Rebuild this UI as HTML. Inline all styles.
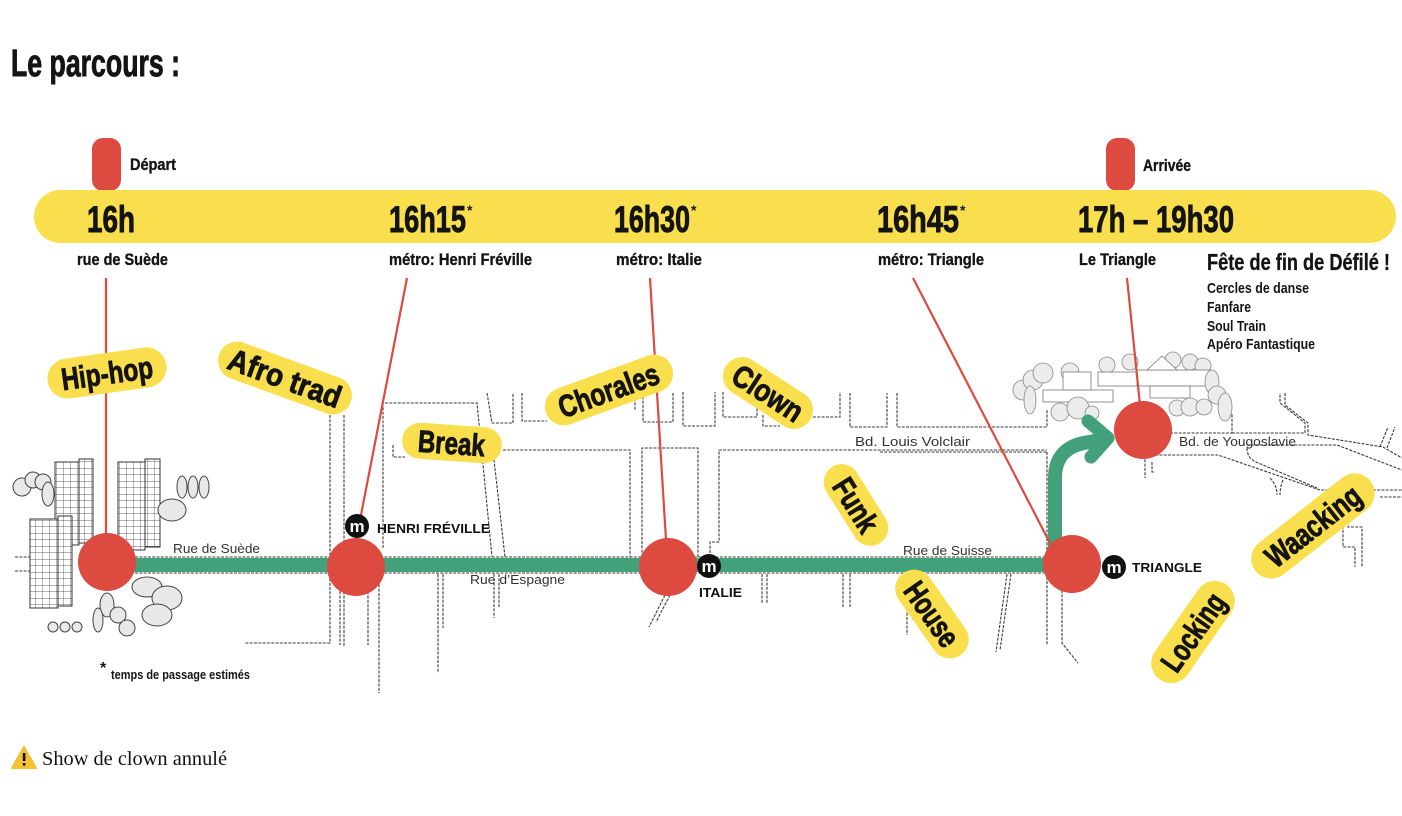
<!DOCTYPE html>
<html><head><meta charset="utf-8"><style>
html,body{margin:0;padding:0;background:#fff;}
svg{display:block;}
.c{font-family:"Liberation Sans",sans-serif;font-weight:bold;fill:#141414;}
.h{stroke:#141414;stroke-width:0.9;}
.h2{stroke:#141414;stroke-width:0.35;}
.m{font-family:"Liberation Sans",sans-serif;fill:#333;}
.st{fill:none;stroke:#3a3a3a;stroke-width:1.1;stroke-dasharray:3 1.3;}
.tr{fill:#e8e8e8;stroke:#444;stroke-width:1;}
.tc{fill:#ececec;stroke:#888;stroke-width:0.8;}
</style></head><body>
<svg width="1402" height="816" viewBox="0 0 1402 816" xmlns="http://www.w3.org/2000/svg">
<defs>
<pattern id="grid" width="7" height="6.5" patternUnits="userSpaceOnUse">
<rect width="7" height="6.5" fill="#fff"/>
<path d="M0,0H7M0,0V6.5" stroke="#333" stroke-width="0.7" fill="none"/>
</pattern>
</defs>

<!-- Title -->
<text class="c h" x="11" y="76" font-size="38" textLength="169" lengthAdjust="spacingAndGlyphs">Le parcours :</text>

<!-- markers -->
<rect x="92" y="138" width="29" height="53" rx="11" fill="#dc4a40"/>
<rect x="1106" y="138" width="29" height="53" rx="11" fill="#dc4a40"/>
<text class="c h2" x="130" y="170" font-size="17" textLength="46" lengthAdjust="spacingAndGlyphs">Départ</text>
<text class="c h2" x="1143" y="171" font-size="17" textLength="48" lengthAdjust="spacingAndGlyphs">Arrivée</text>

<!-- yellow bar -->
<rect x="34" y="190" width="1362" height="53" rx="26.5" fill="#f9df4d"/>
<text class="c h" x="87" y="232" font-size="37" textLength="48" lengthAdjust="spacingAndGlyphs">16h</text>
<text class="c h" x="389" y="232" font-size="37" textLength="77" lengthAdjust="spacingAndGlyphs">16h15</text>
<text class="c" x="467" y="215" font-size="14">*</text>
<text class="c h" x="614" y="232" font-size="37" textLength="76" lengthAdjust="spacingAndGlyphs">16h30</text>
<text class="c" x="691" y="215" font-size="14">*</text>
<text class="c h" x="877" y="232" font-size="37" textLength="82" lengthAdjust="spacingAndGlyphs">16h45</text>
<text class="c" x="960" y="215" font-size="14">*</text>
<text class="c h" x="1078" y="232" font-size="37" textLength="156" lengthAdjust="spacingAndGlyphs">17h – 19h30</text>

<!-- sub labels -->
<text class="c h2" x="77" y="265" font-size="17" textLength="91" lengthAdjust="spacingAndGlyphs">rue de Suède</text>
<text class="c h2" x="389" y="265" font-size="17" textLength="143" lengthAdjust="spacingAndGlyphs">métro: Henri Fréville</text>
<text class="c h2" x="616" y="265" font-size="17" textLength="86" lengthAdjust="spacingAndGlyphs">métro: Italie</text>
<text class="c h2" x="878" y="265" font-size="17" textLength="106" lengthAdjust="spacingAndGlyphs">métro: Triangle</text>
<text class="c h2" x="1079" y="265" font-size="17" textLength="77" lengthAdjust="spacingAndGlyphs">Le Triangle</text>
<text class="c h2" x="1207" y="270" font-size="23" textLength="183" lengthAdjust="spacingAndGlyphs">Fête de fin de Défilé !</text>
<text class="c" x="1207" y="293" font-size="15" textLength="102" lengthAdjust="spacingAndGlyphs">Cercles de danse</text>
<text class="c" x="1207" y="312" font-size="15" textLength="44" lengthAdjust="spacingAndGlyphs">Fanfare</text>
<text class="c" x="1207" y="331" font-size="15" textLength="59" lengthAdjust="spacingAndGlyphs">Soul Train</text>
<text class="c" x="1207" y="349" font-size="15" textLength="108" lengthAdjust="spacingAndGlyphs">Apéro Fantastique</text>

<!-- streets -->
<path class="st" d="
M15,557 H40 M15,571 H35
M135,557 H1047 M135,573 H1047
M330,415 V643 H245
M344,415 V646
M340,587 V645
M368,587 V645
M379,563 V693
M383,403 V548
M385,403 H477 L492,557
M493,451 L505,557
M393,445 V457 H405
M503,450 H630 V557
M642,557 V448 H698 V557
M710,553 V542 H719 V450 H1047
M1047,452 V645
M487,393 L492,423 H513 V393
M522,393 V421 H547
M635,398 V410
M643,392 V422 H673 V392
M683,392 V426 H715 V392
M723,392 V417 H757 V403
M763,415 V426 H780
M813,417 H840 V392
M850,393 V427 H887 V393
M897,393 V427 H1047 V410
M880,452 H1047
M1170,433 H1232 V413
M1232,433 H1305 V423 L1280,403 V393
M1285,393 V405 L1308,423 V435 L1383,447 L1402,458
M1380,447 L1388,427 M1387,448 L1395,427
M1247,445 H1337 L1402,470
M1155,455 H1218 L1320,490 H1402
M1380,497 H1402
M1247,448 Q1247,458 1256,462 L1317,488
M1270,478 Q1277,485 1277,495 M1283,480 Q1280,487 1280,495
M1343,517 V547 H1355 V567
M1348,517 V527 H1362 V567
M1145,455 V478 M1152,462 V472 H1155
M1062,590 V643 L1078,663
M1007,574 L996,652 M1011,574 L1000,650
M907,574 V635 M913,574 V620
M843,574 V607 M850,574 V607
M762,574 V604 M767,574 V604
M665,595 L649,627 M670,595 L656,622
M494,574 V618 M499,574 V607
M438,574 V673 M443,574 V628
"/>

<!-- Le Triangle cluster -->
<g>
<circle class="tc" cx="1023" cy="390" r="10"/>
<circle class="tc" cx="1033" cy="380" r="10"/>
<circle class="tc" cx="1043" cy="373" r="10"/>
<ellipse class="tc" cx="1030" cy="400" rx="6" ry="14"/>
<circle class="tc" cx="1070" cy="372" r="9"/>
<circle class="tc" cx="1107" cy="365" r="8"/>
<circle class="tc" cx="1130" cy="362" r="8"/>
<circle class="tc" cx="1173" cy="360" r="8"/>
<circle class="tc" cx="1190" cy="362" r="8"/>
<circle class="tc" cx="1203" cy="366" r="8"/>
<rect x="1043" y="390" width="70" height="12" fill="#fff" stroke="#777" stroke-width="0.8"/>
<rect x="1063" y="372" width="28" height="18" fill="#fff" stroke="#777" stroke-width="0.8"/>
<rect x="1098" y="372" width="40" height="14" fill="#fff" stroke="#777" stroke-width="0.8"/>
<rect x="1137" y="370" width="73" height="16" fill="#fff" stroke="#777" stroke-width="0.8"/>
<polygon points="1147,370 1162,356 1177,370" fill="#fff" stroke="#777" stroke-width="0.8"/>
<rect x="1150" y="386" width="40" height="12" fill="#fff" stroke="#777" stroke-width="0.8"/>
<circle class="tc" cx="1060" cy="412" r="9"/>
<circle class="tc" cx="1078" cy="408" r="11"/>
<circle class="tc" cx="1092" cy="413" r="7"/>
<ellipse class="tc" cx="1212" cy="382" rx="7" ry="12"/>
<circle class="tc" cx="1217" cy="395" r="9"/>
<circle class="tc" cx="1177" cy="408" r="8"/>
<circle class="tc" cx="1190" cy="407" r="9"/>
<circle class="tc" cx="1204" cy="407" r="8"/>
<ellipse class="tc" cx="1225" cy="407" rx="7" ry="14"/>
</g>

<!-- Left towers and trees -->
<circle class="tr" cx="22" cy="487" r="9"/>
<circle class="tr" cx="33" cy="480" r="8"/>
<circle class="tr" cx="43" cy="482" r="8"/>
<ellipse class="tr" cx="48" cy="494" rx="6" ry="12"/>
<g stroke="#333" stroke-width="1">
<rect x="55" y="462" width="24" height="83" fill="url(#grid)"/>
<rect x="79" y="459" width="14" height="84" fill="url(#grid)"/>
<rect x="118" y="462" width="27" height="88" fill="url(#grid)"/>
<rect x="145" y="459" width="15" height="88" fill="url(#grid)"/>
<rect x="30" y="519" width="28" height="89" fill="url(#grid)"/>
<rect x="58" y="516" width="14" height="90" fill="url(#grid)"/>
</g>
<ellipse class="tr" cx="182" cy="487" rx="5" ry="11"/>
<ellipse class="tr" cx="193" cy="487" rx="5" ry="11"/>
<ellipse class="tr" cx="204" cy="487" rx="5" ry="11"/>
<ellipse class="tr" cx="172" cy="510" rx="14" ry="11"/>
<ellipse class="tr" cx="147" cy="587" rx="15" ry="10"/>
<ellipse class="tr" cx="167" cy="598" rx="15" ry="12"/>
<ellipse class="tr" cx="157" cy="615" rx="15" ry="11"/>
<ellipse class="tr" cx="107" cy="605" rx="7" ry="12"/>
<ellipse class="tr" cx="98" cy="620" rx="5" ry="12"/>
<circle class="tr" cx="118" cy="615" r="8"/>
<circle class="tr" cx="127" cy="628" r="8"/>
<circle class="tr" cx="53" cy="627" r="5"/>
<circle class="tr" cx="65" cy="627" r="5"/>
<circle class="tr" cx="77" cy="627" r="5"/>

<!-- green route -->
<path d="M107,565 H1055 V478 Q1055,446 1090,442 L1104,439" fill="none" stroke="#42a07a" stroke-width="14" stroke-linejoin="round"/>
<path d="M1088,421 L1108,438 L1091,457" fill="none" stroke="#42a07a" stroke-width="13" stroke-linecap="round" stroke-linejoin="round"/>

<!-- red lines -->
<g stroke="#dc4a40" stroke-width="2.2" fill="none">
<path d="M106,278 V540"/>
<path d="M407,278 L361,515"/>
<path d="M650,278 L666,540"/>
<path d="M913,278 L1052,547"/>
<path d="M1127,278 L1140,405"/>
</g>

<!-- circles -->
<g fill="#dc4a40">
<circle cx="107" cy="562" r="29"/>
<circle cx="356" cy="567" r="29"/>
<circle cx="668" cy="567" r="29"/>
<circle cx="1072" cy="564" r="29"/>
<circle cx="1143" cy="430" r="29"/>
</g>

<!-- metro icons -->
<g>
<circle cx="357" cy="526" r="12" fill="#111"/>
<text x="357" y="532" text-anchor="middle" font-family="Liberation Sans,sans-serif" font-weight="bold" font-size="17" fill="#fff">m</text>
<circle cx="709" cy="566" r="12" fill="#111"/>
<text x="709" y="572" text-anchor="middle" font-family="Liberation Sans,sans-serif" font-weight="bold" font-size="17" fill="#fff">m</text>
<circle cx="1114" cy="567" r="12" fill="#111"/>
<text x="1114" y="573" text-anchor="middle" font-family="Liberation Sans,sans-serif" font-weight="bold" font-size="17" fill="#fff">m</text>
</g>

<!-- map labels -->
<text class="m" x="173" y="553" font-size="13" textLength="87" lengthAdjust="spacingAndGlyphs">Rue de Suède</text>
<text class="m" x="377" y="533" font-size="13" font-weight="bold" textLength="113" lengthAdjust="spacingAndGlyphs" style="fill:#111">HENRI FRÉVILLE</text>
<text class="m" x="470" y="584" font-size="13" textLength="95" lengthAdjust="spacingAndGlyphs">Rue d’Espagne</text>
<text class="m" x="699" y="597" font-size="13" font-weight="bold" textLength="43" lengthAdjust="spacingAndGlyphs" style="fill:#111">ITALIE</text>
<text class="m" x="855" y="446" font-size="13" textLength="115" lengthAdjust="spacingAndGlyphs">Bd. Louis Volclair</text>
<text class="m" x="903" y="555" font-size="13" textLength="89" lengthAdjust="spacingAndGlyphs">Rue de Suisse</text>
<text class="m" x="1132" y="572" font-size="13" font-weight="bold" textLength="70" lengthAdjust="spacingAndGlyphs" style="fill:#111">TRIANGLE</text>
<text class="m" x="1179" y="446" font-size="13" textLength="117" lengthAdjust="spacingAndGlyphs">Bd. de Yougoslavie</text>
<text class="c" x="100" y="673" font-size="16">*</text>
<text class="c" x="111" y="679" font-size="13" textLength="139" lengthAdjust="spacingAndGlyphs">temps de passage estimés</text>

<!-- pills -->
<g fill="#f9df4d">
<g transform="translate(107,373) rotate(-8)"><rect x="-60" y="-20" width="120" height="40" rx="20"/><text class="c h" x="-46" y="11" font-size="31" textLength="92" lengthAdjust="spacingAndGlyphs">Hip-hop</text></g>
<g transform="translate(285,378) rotate(20)"><rect x="-70" y="-19" width="140" height="38" rx="19"/><text class="c h" x="-59" y="11" font-size="31" textLength="118" lengthAdjust="spacingAndGlyphs">Afro trad</text></g>
<g transform="translate(452,443) rotate(4)"><rect x="-50" y="-18" width="100" height="36" rx="18"/><text class="c h" x="-34" y="11" font-size="31" textLength="67" lengthAdjust="spacingAndGlyphs">Break</text></g>
<g transform="translate(609,390) rotate(-20)"><rect x="-67" y="-19" width="134" height="38" rx="19"/><text class="c h" x="-53" y="11" font-size="31" textLength="105" lengthAdjust="spacingAndGlyphs">Chorales</text></g>
<g transform="translate(768,393) rotate(33)"><rect x="-50" y="-19" width="100" height="38" rx="19"/><text class="c h" x="-39" y="11" font-size="31" textLength="78" lengthAdjust="spacingAndGlyphs">Clown</text></g>
<g transform="translate(856,505) rotate(58)"><rect x="-45" y="-18" width="90" height="36" rx="18"/><text class="c h" x="-29" y="11" font-size="31" textLength="58" lengthAdjust="spacingAndGlyphs">Funk</text></g>
<g transform="translate(932,614) rotate(55)"><rect x="-50" y="-19" width="100" height="38" rx="19"/><text class="c h" x="-36" y="11" font-size="31" textLength="72" lengthAdjust="spacingAndGlyphs">House</text></g>
<g transform="translate(1193,632) rotate(-55)"><rect x="-58" y="-20" width="116" height="40" rx="20"/><text class="c h" x="-44" y="11" font-size="31" textLength="88" lengthAdjust="spacingAndGlyphs">Locking</text></g>
<g transform="translate(1313,526) rotate(-38)"><rect x="-73" y="-20" width="146" height="40" rx="20"/><text class="c h" x="-56" y="11" font-size="31" textLength="112" lengthAdjust="spacingAndGlyphs">Waacking</text></g>
</g>

<!-- warning -->
<path d="M24,747 L36,768 L12,768 Z" fill="#f2c232" stroke="#f2c232" stroke-width="2" stroke-linejoin="round"/>
<rect x="22.8" y="753" width="2.6" height="8" fill="#111"/>
<rect x="22.8" y="763" width="2.6" height="2.6" fill="#111"/>
<text x="42" y="765" font-family="Liberation Serif,serif" font-size="20" fill="#111" textLength="185" lengthAdjust="spacingAndGlyphs">Show de clown annulé</text>
</svg>
</body></html>
